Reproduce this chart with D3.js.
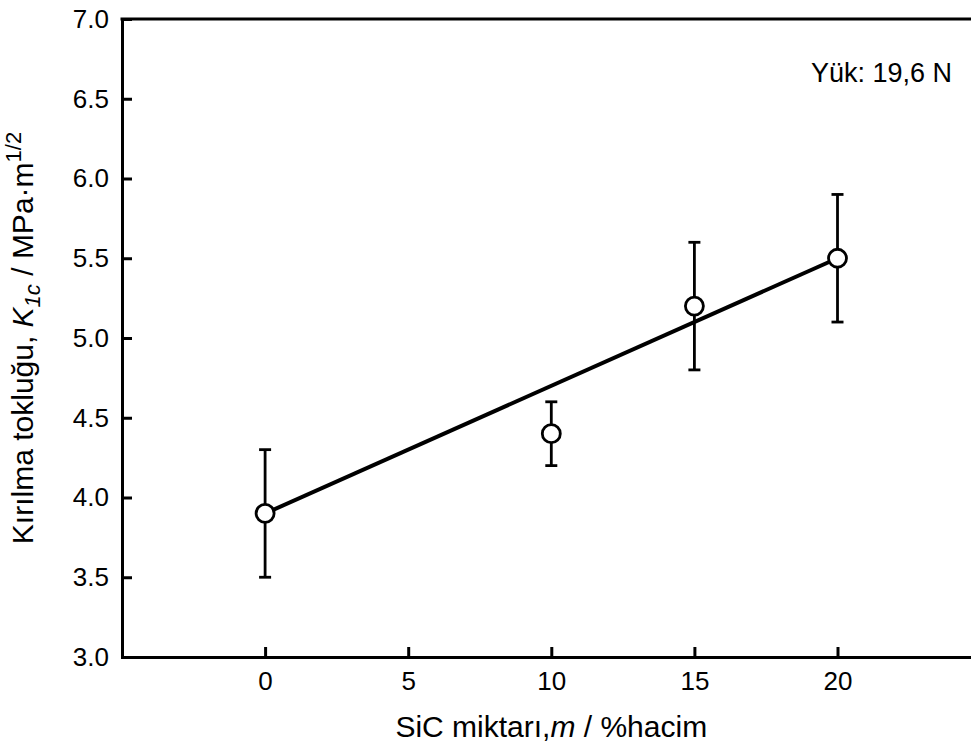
<!DOCTYPE html>
<html>
<head>
<meta charset="utf-8">
<script src="https://cdn.jsdelivr.net/npm/d3@7"></script>
<style>
  body { margin: 0; background: #fff; overflow: hidden; }
  svg { display: block; font-family: "Liberation Sans", Arial, sans-serif; }
</style>
</head>
<body>
<div id="chart"></div>
<script>
// K1c vs SiC content, with linear fit

const sicContent = [0, 10, 15, 20];
const toughness = [3.9, 4.4, 5.2, 5.5];
const errLow = [3.5, 4.2, 4.8, 5.1];
const errHigh = [4.3, 4.6, 5.6, 5.9];
const fitX = [0, 20];
const fitY = [3.9, 5.5];
const xTicks = [0, 5, 10, 15, 20];
const yTicks = [3.0, 3.5, 4.0, 4.5, 5.0, 5.5, 6.0, 6.5, 7.0];

const W = 971, H = 749;
const margin = {top: 19, left: 122};
const width = 858.6;
const height = 638;

const svg = d3.select('#chart').append('svg')
	.attr('width', W)
	.attr('height', H);

const g = svg.append('g')
	.attr('transform', `translate(${margin.left},${margin.top})`);

const x = d3.scaleLinear().domain([-5, 25]).range([0, width]);
const y = d3.scaleLinear().domain([3, 7]).range([height, 0]);

// top frame line (no right side visible in the picture)
g.append('line')
	.attr('x1', -1.5).attr('x2', width)
	.attr('y1', 0).attr('y2', 0)
	.attr('stroke', '#000')
	.attr('stroke-width', 3);

const xAxis = g.append('g')
	.attr('transform', `translate(0,${height})`)
	.call(d3.axisBottom(x).tickValues(xTicks).tickSize(-10).tickSizeOuter(0).tickPadding(15).tickFormat(d3.format('d')));

const yAxis = g.append('g')
	.call(d3.axisLeft(y).tickValues(yTicks).tickSize(-10).tickSizeOuter(0).tickPadding(13).tickFormat(d3.format('.1f')));

[xAxis, yAxis].forEach(a => {
	a.select('.domain').attr('stroke-width', 3).attr('stroke-linecap', 'square');
	a.selectAll('.tick line').attr('stroke-width', 3);
	a.selectAll('.tick text')
		.attr('fill', '#000')
		.style('font-family', '"Liberation Sans", Arial, sans-serif')
		.style('font-size', '26px');
});

// fit line
const line = d3.line().x(d => x(d[0])).y(d => y(d[1]));
g.append('path')
	.datum(fitX.map((v, i) => [v, fitY[i]]))
	.attr('d', line)
	.attr('fill', 'none')
	.attr('stroke', '#000')
	.attr('stroke-width', 4);

// error bars
const pts = sicContent.map((v, i) => ({x: v, y: toughness[i], lo: errLow[i], hi: errHigh[i]}));
const eb = g.selectAll('.eb').data(pts).enter().append('g').attr('class', 'eb')
	.attr('stroke', '#000').attr('stroke-width', 2.8);
eb.append('line')
	.attr('x1', d => x(d.x)).attr('x2', d => x(d.x))
	.attr('y1', d => y(d.lo)).attr('y2', d => y(d.hi));
eb.append('line')
	.attr('x1', d => x(d.x) - 6).attr('x2', d => x(d.x) + 6)
	.attr('y1', d => y(d.lo)).attr('y2', d => y(d.lo));
eb.append('line')
	.attr('x1', d => x(d.x) - 6).attr('x2', d => x(d.x) + 6)
	.attr('y1', d => y(d.hi)).attr('y2', d => y(d.hi));

g.selectAll('.pt').data(pts).enter().append('circle')
	.attr('cx', d => x(d.x))
	.attr('cy', d => y(d.y))
	.attr('r', 9)
	.attr('fill', '#fff')
	.attr('stroke', '#000')
	.attr('stroke-width', 2.8);

// annotation
svg.append('text')
	.attr('x', 952).attr('y', 82)
	.attr('text-anchor', 'end')
	.style('font-size', '27px')
	.text('Yük: 19,6 N');

// x title
const xt = svg.append('text')
	.attr('x', margin.left + x(10))
	.attr('y', 737)
	.attr('text-anchor', 'middle')
	.style('font-size', '30px');
xt.append('tspan').text('SiC miktarı,');
xt.append('tspan').style('font-style', 'italic').text('m');
xt.append('tspan').text(' / %hacim');

// y title
const yt = svg.append('text')
	.attr('transform', `translate(33,${margin.top + height / 2}) rotate(-90)`)
	.attr('text-anchor', 'middle')
	.style('font-size', '30px');
yt.append('tspan').text('Kırılma tokluğu, ');
yt.append('tspan').style('font-style', 'italic').text('K');
yt.append('tspan').style('font-style', 'italic').style('font-size', '22px').attr('dy', 7).text('1c');
yt.append('tspan').attr('dy', -7).text(' / MPa·m');
yt.append('tspan').style('font-size', '22px').attr('dy', -12).text('1/2');
</script>
</body>
</html>
